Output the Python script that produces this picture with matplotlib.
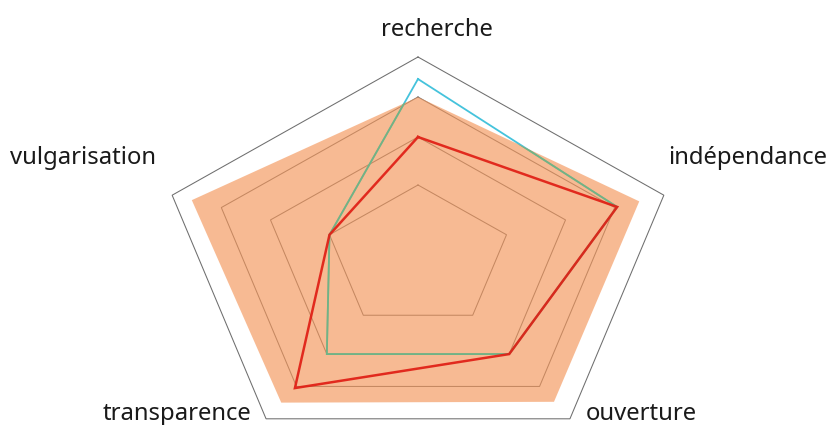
import numpy as np
import matplotlib
matplotlib.use('Agg')
import matplotlib.pyplot as plt
from matplotlib.patches import Polygon

# ---- data (normalised radius, outer frame = 1) ----
categories = ['recherche', 'indépendance', 'ouverture', 'transparence', 'vulgarisation']
grid_levels = [0.36, 0.60, 0.80, 1.00]
area_values = [0.80, 0.90, 0.895, 0.90, 0.92]
cyan_values = [0.89, 0.81, 0.60, 0.60, 0.36]
red_values = [0.60, 0.81, 0.60, 0.81, 0.36]

W, H = 830, 425
fig = plt.figure(figsize=(W / 100, H / 100), dpi=100)
ax = fig.add_axes([0, 0, 1, 1])
cx, cy, rx, ry = 418, 257, 258.5, 200
ax.set_xlim(-cx / rx, (W - cx) / rx)
ax.set_ylim(-(H - cy) / ry, cy / ry)
ax.axis('off')

angles = np.deg2rad(90 - 72 * np.arange(len(categories)))


def xy(vals, close=False):
    v = np.asarray(vals, dtype=float)
    x, y = np.cos(angles) * v, np.sin(angles) * v
    if close:
        x, y = np.append(x, x[0]), np.append(y, y[0])
    return x, y


# grid pentagons
for lev in grid_levels:
    gx, gy = xy([lev] * len(categories), close=True)
    ax.plot(gx, gy, color='#6e6e6e', lw=0.75, solid_joinstyle='miter', zorder=1)

# cyan series
lx, ly = xy(cyan_values, close=True)
ax.plot(lx, ly, color='#45c3dc', lw=1.3, solid_joinstyle='miter', zorder=2)

# orange area
ax_, ay_ = xy(area_values)
poly = Polygon(np.column_stack([ax_, ay_]), closed=True, fc='#f4965a',
               ec='none', alpha=0.65, zorder=3)
ax.add_patch(poly)

# cyan series as seen through the area (greenish)
gline, = ax.plot(lx, ly, color='#6fb486', lw=1.3, solid_joinstyle='miter', zorder=4)
gline.set_clip_path(poly)

# red series
rx_, ry_ = xy(red_values, close=True)
ax.plot(rx_, ry_, color='#e01e14', lw=1.8, alpha=0.92, solid_joinstyle='miter', zorder=5)

# labels (pixel positions: left x, baseline y)
label_pos = [(381, 36), (668, 164), (586, 420), (103, 420), (10, 164)]
for name, (px, py) in zip(categories, label_pos):
    fig.text(px / W, 1 - py / H, name, ha='left', va='baseline',
             fontsize=17.2, family=['Noto Sans', 'DejaVu Sans'], color='#1a1a1a')

fig.savefig('out.png', dpi=100)
